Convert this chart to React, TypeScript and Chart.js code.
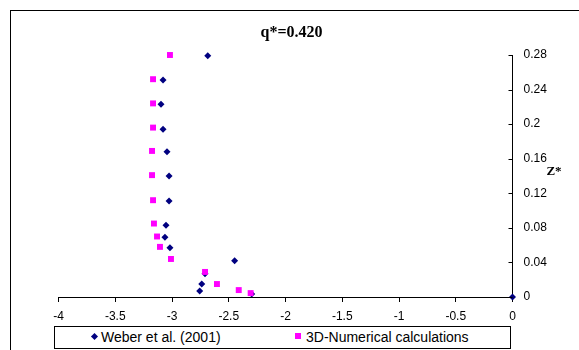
import React, { useEffect, useRef } from 'react';
import { Chart, registerables } from 'chart.js';

Chart.register(...registerables);

const titleText = 'q*=0.420';
const yAxisLabel = 'Z*';
const seriesNames = ['Weber et al. (2001)', '3D-Numerical calculations'];

const weberX = [-2.685, -3.079, -3.097, -3.079, -3.044, -3.026, -3.026, -3.053, -3.062, -3.018, -2.448, -2.709, -2.738, -2.756, -2.298, 0];
const weberY = [0.279, 0.251, 0.223, 0.194, 0.168, 0.140, 0.111, 0.083, 0.069, 0.057, 0.042, 0.027, 0.015, 0.007, 0.0035, 0];

const numX = [-3.018, -3.167, -3.167, -3.167, -3.176, -3.176, -3.167, -3.159, -3.132, -3.106, -3.009, -2.709, -2.604, -2.412, -2.307];
const numY = [0.280, 0.252, 0.224, 0.196, 0.169, 0.141, 0.112, 0.085, 0.070, 0.058, 0.044, 0.029, 0.015, 0.008, 0.0045];

const xTicks = [-4, -3.5, -3, -2.5, -2, -1.5, -1, -0.5, 0];
const yTicks = [0, 0.04, 0.08, 0.12, 0.16, 0.2, 0.24, 0.28];

const weberColor = '#000080';
const numColor = '#FF00FF';
const tickFont = { family: 'Arial, "Liberation Sans", sans-serif', size: 12 };

const decorPlugin = {
  id: 'decor',
  beforeDraw(chart: any) {
    const ctx = chart.ctx;
    ctx.save();
    ctx.strokeStyle = '#000';
    ctx.lineWidth = 1;
    ctx.strokeRect(10.5, 10.5, 800, 600);
    ctx.restore();
  },
  afterDraw(chart: any) {
    const ctx = chart.ctx;
    const ys = chart.scales.y;
    const area = chart.chartArea;
    ctx.save();
    ctx.strokeStyle = '#000';
    ctx.lineWidth = 1;
    ctx.beginPath();
    yTicks.forEach((v) => {
      const py = Math.round(ys.getPixelForValue(v)) + 0.5;
      ctx.moveTo(area.right - 4, py);
      ctx.lineTo(area.right, py);
    });
    ctx.stroke();
    ctx.fillStyle = '#000';
    ctx.textAlign = 'center';
    ctx.textBaseline = 'alphabetic';
    ctx.font = 'bold 16px "Times New Roman", "Liberation Serif", serif';
    ctx.fillText(titleText, chart.width / 2 + 2, 37);
    ctx.textBaseline = 'middle';
    ctx.font = 'bold 13px "Times New Roman", "Liberation Serif", serif';
    ctx.fillText(yAxisLabel, 554, 172);
    ctx.restore();
  },
};

export default function App() {
  const canvasRef = useRef<HTMLCanvasElement | null>(null);

  useEffect(() => {
    if (!canvasRef.current) return;
    const chart = new Chart(canvasRef.current, {
      type: 'scatter',
      data: {
        datasets: [
          {
            label: seriesNames[0],
            data: weberX.map((x, i) => ({ x, y: weberY[i] })),
            pointStyle: 'rectRot',
            pointRadius: 3.5,
            backgroundColor: weberColor,
            borderColor: weberColor,
            borderWidth: 0,
            clip: false,
            order: 2,
          },
          {
            label: seriesNames[1],
            data: numX.map((x, i) => ({ x, y: numY[i] })),
            pointStyle: 'rect',
            pointRadius: 4.2,
            backgroundColor: numColor,
            borderColor: numColor,
            borderWidth: 0,
            clip: false,
            order: 1,
          },
        ],
      },
      options: {
        animation: false,
        responsive: false,
        devicePixelRatio: 1,
        layout: { padding: { left: 58.5, top: 55, right: 0, bottom: 0 } },
        plugins: {
          legend: { display: false },
          title: { display: false },
          tooltip: { enabled: false },
        },
        scales: {
          x: {
            type: 'linear',
            position: 'bottom',
            min: -4,
            max: 0,
            afterBuildTicks: (s: any) => {
              s.ticks = xTicks.map((v) => ({ value: v }));
            },
            afterFit: (s: any) => {
              s.height = 53;
            },
            ticks: {
              autoSkip: false,
              maxRotation: 0,
              padding: 7,
              color: '#000',
              font: tickFont,
              callback: (v: any) => String(v),
            },
            grid: { drawOnChartArea: false, tickLength: 5, color: '#000', tickColor: '#000' },
            border: { color: '#000', width: 1 },
          },
          y: {
            type: 'linear',
            position: 'right',
            min: 0,
            max: 0.28,
            afterBuildTicks: (s: any) => {
              s.ticks = yTicks.map((v) => ({ value: v }));
            },
            afterFit: (s: any) => {
              s.width = 66.5;
            },
            ticks: {
              autoSkip: false,
              padding: 11,
              color: '#000',
              font: tickFont,
              callback: (v: any) => String(v),
            },
            grid: { drawOnChartArea: false, drawTicks: false, color: '#000' },
            border: { color: '#000', width: 1 },
          },
        },
      },
      plugins: [decorPlugin],
    } as any);
    return () => chart.destroy();
  }, []);

  const legendFont = 'Arial, "Liberation Sans", sans-serif';

  return (
    <div style={{ position: 'absolute', left: 0, top: 0, width: 579, height: 350, background: '#fff', overflow: 'hidden' }}>
      <canvas ref={canvasRef} width={579} height={350} style={{ display: 'block' }} />
      <div
        style={{
          position: 'absolute',
          left: 54,
          top: 326,
          width: 457,
          height: 23,
          boxSizing: 'border-box',
          border: '1px solid #000',
          background: '#fff',
          fontFamily: legendFont,
          fontSize: 14,
          color: '#000',
        }}
      >
        <span
          style={{
            position: 'absolute',
            left: 37,
            top: 7,
            width: 5,
            height: 5,
            background: weberColor,
            transform: 'rotate(45deg)',
          }}
        />
        <span style={{ position: 'absolute', left: 46, top: 2, lineHeight: '17px', whiteSpace: 'nowrap' }}>{seriesNames[0]}</span>
        <span
          style={{
            position: 'absolute',
            left: 240,
            top: 6,
            width: 6,
            height: 6,
            background: numColor,
          }}
        />
        <span style={{ position: 'absolute', left: 251, top: 2, lineHeight: '17px', whiteSpace: 'nowrap' }}>{seriesNames[1]}</span>
      </div>
    </div>
  );
}
